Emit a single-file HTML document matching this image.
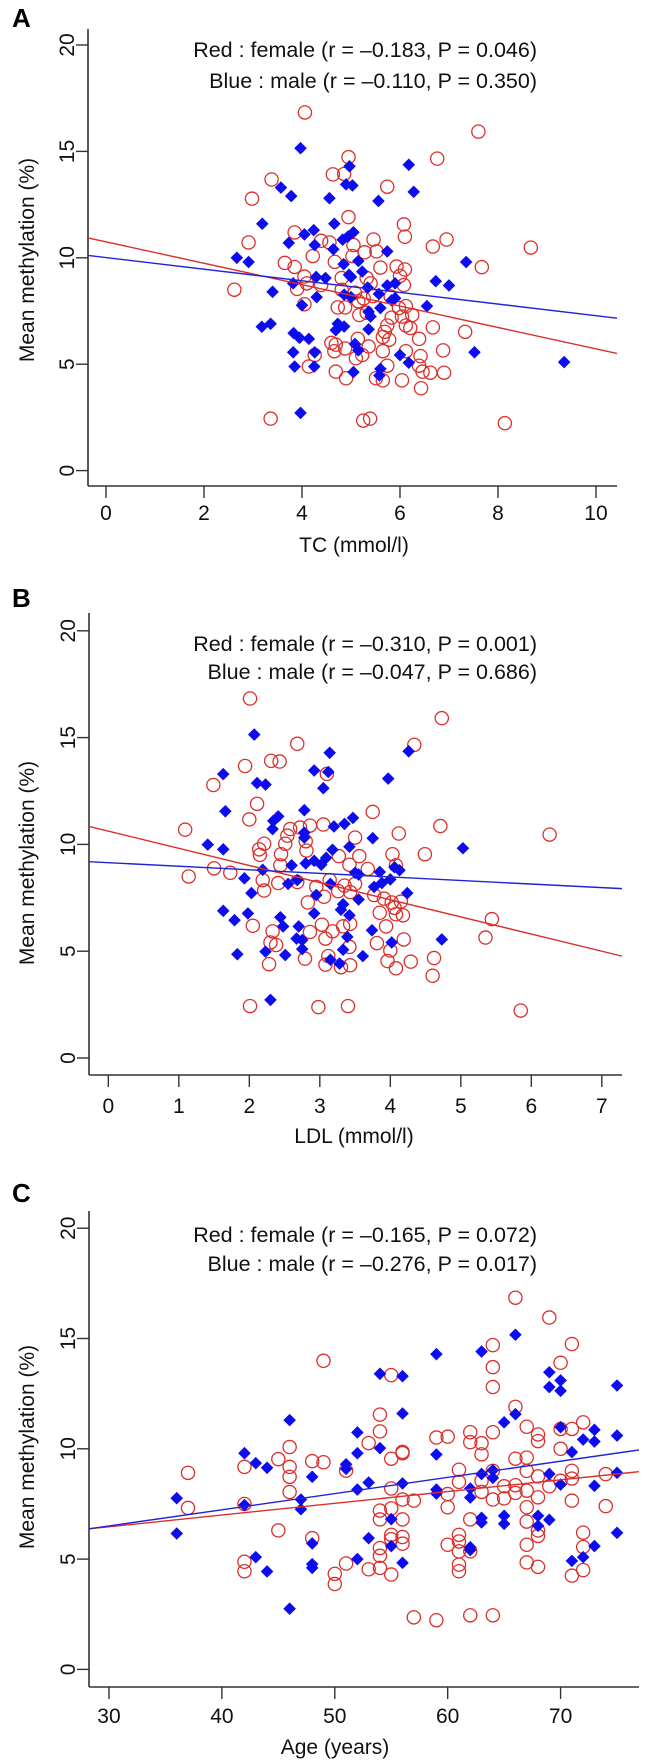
<!DOCTYPE html>
<html>
<head>
<meta charset="utf-8">
<style>
html,body{margin:0;padding:0;background:#fff;}
svg{display:block;font-family:"Liberation Sans",Arial,sans-serif;}
</style>
</head>
<body>
<svg id="fig" width="647" height="1763" viewBox="0 0 647 1763" xmlns="http://www.w3.org/2000/svg"></svg>
<script>
// ---------- Panel A: TC ----------
const aMaleX = [3.97,4.97,6.18,3.57,3.78,4.9,5.03,6.28,4.56,5.56,3.19,4.66,4.05,4.24,5.05,4.94,4.83,3.73,4.26,4.64,5.74,2.67,2.91,5.15,7.35,4.85,4.96,5.23,4.29,4.48,5.0,6.73,7.0,3.82,5.9,5.34,5.74,3.4,4.86,5.57,5.0,4.3,5.9,5.83,4.0,5.6,6.55,5.36,5.4,3.18,3.36,4.73,4.69,4.86,5.36,3.83,3.95,4.14,5.08,5.15,3.82,4.26,7.52,6.0,6.18,9.35,3.85,4.25,5.05,5.6,5.58,3.97];
const aMaleY = [15.15,14.3,14.37,13.3,12.9,13.45,13.4,13.1,12.8,12.67,11.6,11.6,11.1,11.3,11.2,11.0,10.85,10.7,10.6,10.4,10.3,10.0,9.8,9.85,9.8,9.7,9.2,9.35,9.1,9.05,9.1,8.9,8.7,8.8,8.8,8.6,8.7,8.4,8.27,8.3,8.15,8.15,8.1,8.0,7.77,7.64,7.73,7.46,7.24,6.76,6.9,6.9,6.6,6.77,6.64,6.46,6.24,6.19,5.95,5.65,5.56,5.56,5.56,5.43,5.07,5.1,4.89,4.89,4.63,4.78,4.47,2.71];
const aFemaleX = [4.06,7.6,4.95,6.76,3.38,4.63,4.86,5.74,2.98,4.95,6.08,6.1,2.91,3.85,5.46,6.95,6.67,8.67,4.39,4.56,5.05,5.52,5.28,4.22,5.03,3.65,3.85,4.67,5.6,5.93,6.1,7.67,2.62,4.05,4.1,3.9,4.39,4.81,5.32,5.4,6.0,6.08,4.81,5.08,5.26,5.45,5.81,5.15,4.05,4.73,4.88,5.98,6.12,5.32,5.83,6.04,6.25,5.17,5.74,6.12,6.67,6.21,7.33,5.69,5.65,5.78,5.14,4.6,4.69,6.39,4.66,4.88,5.65,6.88,4.26,5.36,5.23,5.1,6.12,6.42,5.74,6.39,4.14,4.69,6.62,6.46,6.9,4.9,5.51,5.65,6.04,6.43,3.36,5.25,5.39,8.14];
const aFemaleY = [16.83,15.93,14.73,14.66,13.68,13.92,13.94,13.34,12.78,11.91,11.57,10.99,10.72,11.19,10.86,10.86,10.53,10.48,10.8,10.72,10.6,10.3,10.26,10.08,10.08,9.76,9.57,9.81,9.54,9.59,9.45,9.56,8.5,9.12,8.8,8.54,8.72,9.05,9.05,8.8,9.15,8.72,8.5,8.36,8.09,8.2,8.18,7.96,7.82,7.67,7.67,7.64,7.73,7.42,7.19,7.24,7.31,7.31,6.82,6.82,6.73,6.7,6.52,6.52,6.28,6.15,6.19,6.0,5.92,6.19,5.61,5.74,5.61,5.65,5.43,5.83,5.43,5.28,5.61,5.38,4.93,4.93,4.89,4.65,4.6,4.65,4.6,4.34,4.34,4.24,4.24,3.87,2.44,2.35,2.44,2.23];
const aFit = {femaleIntercept:10.75, femaleSlope:-0.503, maleIntercept:10.01, maleSlope:-0.273};
const aXTicks = [0,2,4,6,8,10];

// ---------- Panel B: LDL ----------
const bMaleX = [2.07,3.14,4.26,1.63,2.92,3.12,3.97,2.11,2.23,3.05,1.66,2.78,2.41,2.34,3.47,3.35,3.2,2.33,2.78,2.78,3.75,1.41,1.63,5.03,3.18,3.42,3.09,2.92,2.8,3.02,2.6,3.85,4.06,4.13,2.19,1.93,3.5,3.55,4.0,3.88,3.15,2.55,2.68,3.77,4.24,2.03,2.95,3.55,3.33,3.3,1.63,1.98,2.92,3.42,1.79,2.44,2.48,2.7,3.74,2.67,2.75,3.39,4.73,4.02,2.75,3.33,2.23,1.83,2.51,3.61,3.15,3.28,2.3];
const bMaleY = [15.14,14.29,14.36,13.29,13.46,13.39,13.08,12.87,12.8,12.63,11.55,11.6,11.31,11.1,11.24,10.96,10.84,10.72,10.55,10.32,10.29,9.99,9.77,9.82,9.75,9.89,9.37,9.23,9.11,9.05,9.02,8.71,8.93,8.79,8.81,8.41,8.67,8.59,8.36,8.19,8.15,8.15,8.33,8.01,7.72,7.72,7.63,7.42,7.2,6.94,6.89,6.77,6.77,6.68,6.45,6.59,6.16,6.16,5.98,5.59,5.52,5.67,5.55,5.41,5.1,5.07,4.98,4.86,4.82,4.77,4.6,4.42,2.72];
const bFemaleX = [2.01,4.73,2.68,4.34,2.31,2.43,1.94,3.1,1.49,2.11,3.75,2.0,1.09,4.71,6.26,4.12,3.05,2.58,2.72,2.86,2.54,3.5,2.21,2.51,2.8,2.14,2.81,2.15,2.45,3.56,4.03,4.49,3.27,2.44,3.42,4.08,1.14,1.5,1.73,2.19,2.41,2.68,3.14,3.68,3.5,2.21,2.95,3.26,3.35,3.06,3.43,3.77,3.91,4.02,4.15,2.83,4.06,3.85,4.08,4.18,5.44,3.33,2.05,3.03,3.94,3.43,2.86,3.18,2.33,3.08,5.35,4.19,2.3,2.38,3.42,3.81,4.0,3.12,2.79,3.96,4.29,4.62,2.28,3.08,3.43,3.3,4.08,4.6,2.01,2.98,3.4,5.85];
const bFemaleY = [16.83,15.91,14.71,14.66,13.91,13.88,13.67,13.3,12.78,11.9,11.52,11.17,10.69,10.86,10.46,10.51,10.93,10.72,10.79,10.88,10.41,10.32,10.03,10.03,10.15,9.77,9.71,9.51,9.54,9.45,9.54,9.54,9.45,9.02,9.05,9.02,8.5,8.88,8.67,8.33,8.19,8.24,8.33,8.85,8.15,7.84,8.01,7.81,8.07,7.55,7.77,7.63,7.46,7.28,7.32,7.28,7.03,6.8,6.73,6.68,6.5,6.16,6.19,6.24,6.16,6.28,5.9,5.93,5.93,5.59,5.64,5.55,5.41,5.29,5.2,5.38,5.03,4.77,4.65,4.54,4.51,4.68,4.39,4.37,4.34,4.25,4.2,3.85,2.43,2.38,2.43,2.22];
const bFit = {femaleIntercept:10.62, femaleSlope:-0.803, maleIntercept:9.144, maleSlope:-0.1667};
const bXTicks = [0,1,2,3,4,5,6,7];

// ---------- Panel C: Age ----------
const cMaleX = [36,36,42,43,44,42,46,47,47,48,48,48,48,43,44,46,51,51,52,52,52,52,53,53,54,54,55,55,56,56,56,56,59,59,59,59,62,62,62,62,63,63,63,63,64,64,65,65,65,66,66,68,68,69,69,69,69,70,70,70,70,71,71,72,72,73,73,73,73,75,75,75,75];
const cMaleY = [7.76,6.16,9.8,9.35,9.14,7.45,11.3,7.7,7.26,8.73,5.71,4.77,4.6,5.09,4.44,2.75,9.3,9.09,10.74,9.8,8.15,5.0,8.47,5.95,13.4,10.03,6.81,5.59,13.29,11.6,8.43,4.83,14.29,9.74,8.15,7.97,8.2,7.79,5.54,5.41,14.41,8.86,6.87,6.66,9.03,8.68,11.2,6.96,6.6,15.17,11.57,6.96,6.51,13.47,12.8,8.86,6.78,13.1,12.63,10.98,8.38,9.85,4.92,10.42,5.09,10.86,10.33,8.32,5.59,12.87,10.6,8.91,6.19];
const cFemaleX = [37,37,42,42,42,42,45,45,46,46,46,46,48,48,49,49,50,50,51,51,53,53,54,54,54,54,54,54,54,55,55,55,55,55,55,55,56,56,56,56,56,56,57,57,59,59,60,60,60,60,61,61,61,61,61,61,61,62,62,62,62,62,63,63,63,63,64,64,64,64,64,64,64,65,65,66,66,66,66,66,67,67,67,67,67,67,67,67,68,68,68,68,68,68,68,69,69,70,70,70,70,71,71,71,71,71,71,72,72,72,72,74,74];
const cFemaleY = [8.91,7.32,9.18,7.5,4.88,4.45,9.53,6.3,10.08,9.18,8.73,8.04,9.44,5.95,9.39,13.99,4.33,3.87,9.01,4.8,10.26,4.54,11.55,10.79,7.2,6.8,5.5,5.15,4.6,13.34,9.55,8.2,7.3,6.1,5.9,4.3,9.86,9.8,7.7,6.8,6.0,5.7,7.65,2.36,10.51,2.23,10.55,7.95,7.35,5.65,9.05,8.5,6.1,5.8,5.35,4.75,4.45,10.75,10.3,6.8,5.35,2.45,10.25,9.75,8.05,8.55,14.7,13.7,12.8,10.75,9.0,7.7,2.45,8.3,7.75,16.85,11.9,9.55,8.35,8.0,11.0,9.6,9.0,8.1,7.35,6.7,5.65,4.85,10.65,10.35,8.75,7.8,6.3,6.05,4.65,15.95,8.3,13.9,10.9,10.0,8.55,14.75,10.9,9.0,8.65,7.65,4.25,11.2,6.2,5.55,4.5,8.85,7.4];
const cFit = {femaleIntercept:4.869, femaleSlope:0.0532, maleIntercept:4.30, maleSlope:0.0734};
const cXTicks = [30,40,50,60,70];

const yTicks = [0,5,10,15,20];

const NS = "http://www.w3.org/2000/svg";
const svg = document.getElementById('fig');
const RED = "#db2f2b", BLUE = "#0c0cee", AX = "#333";

function mk(tag, attrs, parent){
  const e = document.createElementNS(NS, tag);
  for (const k in attrs) e.setAttribute(k, attrs[k]);
  (parent||svg).appendChild(e);
  return e;
}

function drawPanel(g, geo, femaleX, femaleY, maleX, maleY, fit, xTicks, texts){
  const sx = v => geo.x0 + (v - geo.xa) * geo.kx;
  const sy = v => geo.y0 - v * geo.ky;
  const grp = mk('g', {});
  
  

  const lab = mk('text', {x:12, y:geo.labY, 'font-size':26, 'font-weight':'bold', fill:'#000'}, grp);
  lab.textContent = texts.letter;
  
  

  const yAxis = mk('line', {x1:geo.left, y1:geo.top, x2:geo.left, y2:geo.bottom, stroke:AX, 'stroke-width':1.6}, grp);
  
  
  const xAxis = mk('line', {x1:geo.left, y1:geo.bottom, x2:geo.right, y2:geo.bottom, stroke:AX, 'stroke-width':1.6}, grp);
  
  

  yTicks.forEach(t => {
    const y = sy(t);
    const tk = mk('line', {x1:geo.left-12, y1:y, x2:geo.left, y2:y, stroke:AX, 'stroke-width':1.4}, grp);
    
    
    const tl = mk('text', {x:0, y:0, transform:`translate(${geo.left-14},${y}) rotate(-90)`, 'text-anchor':'middle', 'font-size':21, fill:'#111'}, grp);
    tl.textContent = t;
    
    
  });
  xTicks.forEach(t => {
    const x = sx(t);
    const tk = mk('line', {x1:x, y1:geo.bottom, x2:x, y2:geo.bottom+12, stroke:AX, 'stroke-width':1.4}, grp);
    
    
    const tl = mk('text', {x:x, y:geo.tickLabY, 'text-anchor':'middle', 'font-size':21, fill:'#111'}, grp);
    tl.textContent = t;
    
    
  });

  const yt = mk('text', {x:0, y:0, transform:`translate(34,${geo.yTitleY}) rotate(-90)`, 'text-anchor':'middle', 'font-size':21, fill:'#111'}, grp);
  yt.textContent = 'Mean methylation (%)';
  
  
  const xt = mk('text', {x:geo.xTitleX, y:geo.xTitleY, 'text-anchor':'middle', 'font-size':21, fill:'#111'}, grp);
  xt.textContent = texts.xTitle;
  
  

  const a1 = mk('text', {x:537, y:geo.ann1, 'text-anchor':'end', 'font-size':21.5, fill:'#111'}, grp);
  a1.textContent = texts.ann1;
  
  
  const a2 = mk('text', {x:537, y:geo.ann2, 'text-anchor':'end', 'font-size':21.5, fill:'#111'}, grp);
  a2.textContent = texts.ann2;
  
  

  const n1 = Math.min(femaleX.length, femaleY.length);
  for (let i=0;i<n1;i++){
    const c = mk('circle', {cx:sx(femaleX[i]), cy:sy(femaleY[i]), r:6.6, fill:'none', stroke:RED, 'stroke-width':1.3}, grp);
    
    
  }
  const n2 = Math.min(maleX.length, maleY.length);
  for (let i=0;i<n2;i++){
    const x = sx(maleX[i]), y = sy(maleY[i]), d = 6.3;
    const p = mk('path', {d:`M${x},${y-d}L${x+d},${y}L${x},${y+d}L${x-d},${y}Z`, fill:BLUE}, grp);
    
    
  }

  const xl = geo.xa, xr = geo.xa + (geo.right - geo.x0)/geo.kx;
  const rl = mk('line', {x1:geo.left, y1:sy(fit.femaleIntercept + fit.femaleSlope*xl), x2:geo.right, y2:sy(fit.femaleIntercept + fit.femaleSlope*xr), stroke:RED, 'stroke-width':1.4}, grp);
  
  
  const bl = mk('line', {x1:geo.left, y1:sy(fit.maleIntercept + fit.maleSlope*xl), x2:geo.right, y2:sy(fit.maleIntercept + fit.maleSlope*xr), stroke:'#2323d6', 'stroke-width':1.4}, grp);
  
  
}

drawPanel(null, {left:88, right:617, top:29, bottom:486, x0:88, xa:-0.367, kx:49, y0:470.6, ky:21.28,
  labY:27, tickLabY:520, yTitleY:260, xTitleX:354, xTitleY:552, ann1:57, ann2:88},
  aFemaleX, aFemaleY, aMaleX, aMaleY, aFit, aXTicks,
  {id:'tc', letter:'A', xTitle:'TC (mmol/l)', ann1:'Red : female (r = \u20130.183, P = 0.046)', ann2:'Blue : male (r = \u20130.110, P = 0.350)'});

drawPanel(null, {left:89, right:622, top:613, bottom:1075, x0:89, xa:-0.274, kx:70.5, y0:1058, ky:21.36,
  labY:607, tickLabY:1113, yTitleY:863, xTitleX:354, xTitleY:1143, ann1:651, ann2:679},
  bFemaleX, bFemaleY, bMaleX, bMaleY, bFit, bXTicks,
  {id:'ldl', letter:'B', xTitle:'LDL (mmol/l)', ann1:'Red : female (r = \u20130.310, P = 0.001)', ann2:'Blue : male (r = \u20130.047, P = 0.686)'});

drawPanel(null, {left:89, right:639, top:1211, bottom:1687, x0:89, xa:28.23, kx:11.29, y0:1669.4, ky:22.06,
  labY:1202, tickLabY:1723, yTitleY:1447, xTitleX:335, xTitleY:1754, ann1:1242, ann2:1271},
  cFemaleX, cFemaleY, cMaleX, cMaleY, cFit, cXTicks,
  {id:'age', letter:'C', xTitle:'Age (years)', ann1:'Red : female (r = \u20130.165, P = 0.072)', ann2:'Blue : male (r = \u20130.276, P = 0.017)'});
</script>
</body>
</html>
